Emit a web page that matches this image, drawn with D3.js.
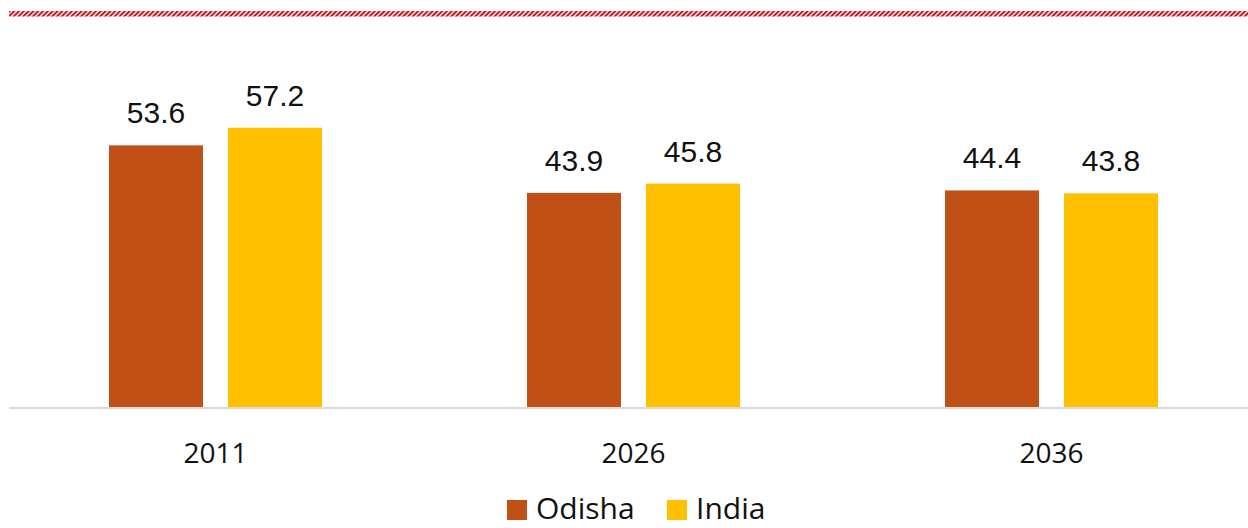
<!DOCTYPE html>
<html>
<head>
<meta charset="utf-8">
<script src="https://cdn.jsdelivr.net/npm/d3@7"></script>
<style>
  html, body { margin: 0; padding: 0; background: #fff; }
  svg { display: block; }
</style>
</head>
<body>
<svg id="chart" width="1248" height="528"></svg>
<script>
const categories = ["2011", "2026", "2036"];
const seriesNames = ["Odisha", "India"];
const odishaValues = [53.6, 43.9, 44.4];
const indiaValues = [57.2, 45.8, 43.8];
const seriesColors = ["#C05016", "#FFC000"];

const svg = d3.select("#chart");
const W = 1248, H = 528;
const baseY = 408;

// hatched top band
const defs = svg.append("defs");
const pat = defs.append("pattern")
  .attr("id", "hatch").attr("patternUnits", "userSpaceOnUse")
  .attr("width", 3.4).attr("height", 3.4)
  .attr("patternTransform", "rotate(45)");
pat.append("rect").attr("width", 3.4).attr("height", 3.4).attr("fill", "#f8e4e4");
pat.append("rect").attr("width", 1.9).attr("height", 3.4).attr("fill", "#C0141E");
svg.append("rect").attr("x", 9).attr("y", 11).attr("width", W - 9).attr("height", 5.5)
  .attr("fill", "url(#hatch)");

const x0 = d3.scaleBand().domain(categories).range([6.5, 1260.5]).padding(0);
const x1 = d3.scaleBand().domain(seriesNames).range([-106.5, 106.5])
  .paddingInner(25 / 119).paddingOuter(0);
const y = d3.scaleLinear().domain([0, 60]).range([baseY, baseY - 60 * 4.9]);

const data = categories.map((c, i) => ({
  cat: c,
  vals: [
    { s: seriesNames[0], v: odishaValues[i], c: seriesColors[0] },
    { s: seriesNames[1], v: indiaValues[i], c: seriesColors[1] }
  ]
}));

const groups = svg.append("g").selectAll("g").data(data).join("g")
  .attr("transform", d => `translate(${x0(d.cat) + x0.bandwidth() / 2},0)`);

groups.selectAll("rect").data(d => d.vals).join("rect")
  .attr("x", d => x1(d.s))
  .attr("y", d => y(d.v))
  .attr("width", x1.bandwidth())
  .attr("height", d => baseY - y(d.v))
  .attr("fill", d => d.c);

groups.selectAll("text.val").data(d => d.vals).join("text")
  .attr("class", "val")
  .attr("x", d => x1(d.s) + x1.bandwidth() / 2)
  .attr("y", d => y(d.v) - 22)
  .attr("text-anchor", "middle")
  .attr("font-family", "'Liberation Sans', Arial, sans-serif")
  .attr("font-size", 30)
  .attr("fill", "#111")
  .text(d => d.v.toFixed(1));

// baseline axis
const xAxis = d3.axisBottom(x0).tickSize(0).tickPadding(0);
const axisG = svg.append("g").attr("transform", `translate(0,${baseY})`).call(xAxis);
axisG.select(".domain").remove();
axisG.append("line").attr("x1", 9).attr("x2", W).attr("y1", 0).attr("y2", 0)
  .attr("stroke", "#d9d9d9").attr("stroke-width", 2);
axisG.selectAll(".tick text")
  .attr("y", 55).attr("dy", 0)
  .attr("font-family", "'Open Sans', sans-serif")
  .attr("font-size", 28)
  .attr("fill", "#111");

// legend
const legendItems = [
  { name: seriesNames[0], color: seriesColors[0], sx: 507, tx: 536 },
  { name: seriesNames[1], color: seriesColors[1], sx: 667, tx: 696 }
];
const lg = svg.append("g");
lg.selectAll("rect").data(legendItems).join("rect")
  .attr("x", d => d.sx).attr("y", 500).attr("width", 20).attr("height", 20)
  .attr("fill", d => d.color);
lg.selectAll("text").data(legendItems).join("text")
  .attr("x", d => d.tx).attr("y", 519)
  .attr("font-family", "'Open Sans', sans-serif")
  .attr("font-size", 30)
  .attr("fill", "#111")
  .text(d => d.name);
</script>
</body>
</html>
